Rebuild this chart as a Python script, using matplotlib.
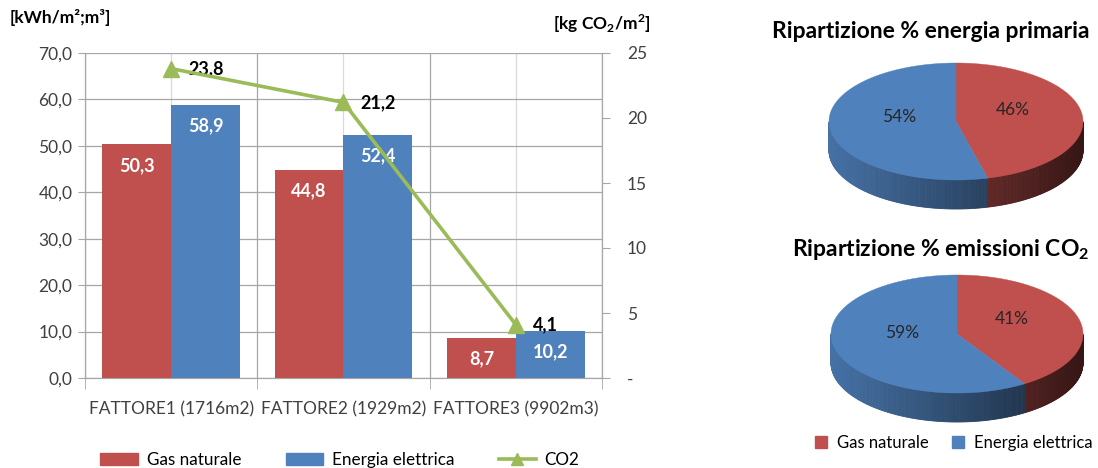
import numpy as np
import matplotlib
matplotlib.use("Agg")
import matplotlib.pyplot as plt
from matplotlib.patches import Polygon, Patch
from matplotlib.lines import Line2D

# data
categories = ["FATTORE1 (1716m2)", "FATTORE2 (1929m2)", "FATTORE3 (9902m3)"]
gas = [50.3, 44.8, 8.7]
elettrica = [58.9, 52.4, 10.2]
co2 = [23.8, 21.2, 4.1]

pie_labels = ["Gas naturale", "Energia elettrica"]
pie_energia = [46, 54]
pie_emissioni = [41, 59]

RED = "#C0504D"
BLUE = "#4F81BD"
GREEN = "#9BBB59"
GRID = "#A6A6A6"

plt.rcParams['font.family'] = ['Lato', 'DejaVu Sans']
plt.rcParams['mathtext.fontset'] = 'custom'
plt.rcParams['mathtext.rm'] = 'Lato'
plt.rcParams['mathtext.bf'] = 'Lato:bold'


def fmt(v):
    return f"{v:.1f}".replace(".", ",")


W, H = 1098, 468
fig = plt.figure(figsize=(W / 100, H / 100), dpi=100)

# ---- bar + line chart
ax = fig.add_axes([85 / W, 1 - 378 / H, (602 - 85) / W, (378 - 53) / H])
x = np.arange(len(categories))
w = 0.4
b1 = ax.bar(x - w / 2, gas, w, color=RED, zorder=3)
b2 = ax.bar(x + w / 2, elettrica, w, color=BLUE, zorder=3)
for bars, vals in ((b1, gas), (b2, elettrica)):
    for r, v in zip(bars, vals):
        ax.annotate(fmt(v), (r.get_x() + r.get_width() / 2, v), xytext=(0, -21),
                    textcoords='offset pixels', ha='center', va='center',
                    color='white', fontweight='bold', fontsize=13, zorder=4)

ax.set_xlim(-0.5, 2.5)
ax.set_ylim(0, 70)
yt = np.arange(0, 71, 10)
ax.set_yticks(yt)
ax.set_yticklabels([fmt(v) for v in yt], fontsize=12.5, color='#404040')
ax.set_xticks(x)
ax.set_xticklabels(categories, fontsize=12.5, color='#404040')
ax.set_xticks([-0.5, 0.5, 1.5, 2.5], minor=True)
ax.tick_params(axis='x', which='major', length=0, pad=17)
ax.tick_params(axis='x', which='minor', length=8, color=GRID, direction='out')
ax.tick_params(axis='y', length=5, color=GRID, pad=4)
ax.grid(axis='y', color=GRID, lw=0.9)
ax.grid(axis='x', which='major', color='#D9D9D9', lw=0.9)
ax.grid(axis='x', which='minor', color=GRID, lw=0.9)
ax.set_axisbelow(True)
ax.spines['top'].set_visible(False)
for s in ['left', 'bottom', 'right']:
    ax.spines[s].set_color(GRID)

ax2 = ax.twinx()
ax2.plot(x, co2, color=GREEN, lw=2.6, marker='^', ms=12, zorder=5)
for xi, v in zip(x, co2):
    ax2.annotate(fmt(v), (xi, v), xytext=(17, 0), textcoords='offset pixels',
                 ha='left', va='center', fontweight='bold', fontsize=13)
ax2.set_ylim(0, 25)
yt2 = np.arange(0, 26, 5)
ax2.set_yticks(yt2)
ax2.set_yticklabels(['-'] + [str(v) for v in yt2[1:]], fontsize=12.5, color='#404040')
ax2.tick_params(axis='y', length=6, color=GRID, pad=12)
ax2.spines['top'].set_visible(False)
for s in ['left', 'bottom', 'right']:
    ax2.spines[s].set_color(GRID)

fig.text(10 / W, 1 - 18 / H, "[kWh/m²;m³]", ha='left', va='center',
         fontweight='bold', fontsize=12.5)
fig.text(602 / W, 1 - 24 / H, r"[kg CO$_\mathbf{2}$/m$^\mathbf{2}$]", ha='center', va='center',
         fontweight='bold', fontsize=12.5)

handles = [Patch(color=RED), Patch(color=BLUE),
           Line2D([], [], color=GREEN, lw=2.6, marker='^', ms=9)]
fig.legend(handles, ["Gas naturale", "Energia elettrica", "CO2"], loc='center',
           bbox_to_anchor=(340 / W, 1 - 460 / H), ncol=3, frameon=False, fontsize=12.3,
           handlelength=2.2, handleheight=0.75, handletextpad=0.5, columnspacing=2.6)

# ---- 3D-looking pies
ov = fig.add_axes([0, 0, 1, 1])
ov.set_xlim(0, W)
ov.set_ylim(H, 0)
ov.axis('off')


def pt(cx, cy, a, b, t):
    r = np.radians(t)
    return cx + a * np.cos(r), cy - b * np.sin(r)


def pie3d(cx, cy, a, b, depth, values, colors):
    total = float(sum(values))
    angles = [90.0]
    for v in values:
        angles.append(angles[-1] - 360.0 * v / total)
    # side wall
    for i, col in enumerate(colors):
        base = np.array(matplotlib.colors.to_rgb(col))
        ts = np.linspace(angles[i + 1], angles[i], 240)
        for ta, tb in zip(ts[:-1], ts[1:]):
            tm = (ta + tb) / 2
            if np.sin(np.radians(tm)) >= 0:
                continue
            k = (np.cos(np.radians(tm)) + 1) / 2
            c = base * (0.88 - 0.6 * k)
            p1 = pt(cx, cy, a, b, ta)
            p2 = pt(cx, cy, a, b, tb)
            poly = [p1, p2, (p2[0], p2[1] + depth), (p1[0], p1[1] + depth)]
            ov.add_patch(Polygon(poly, closed=True, fc=c, ec=c, lw=0.6))
    # top face
    for i, col in enumerate(colors):
        ts = np.linspace(angles[i], angles[i + 1], 200)
        pts = [(cx, cy)] + [pt(cx, cy, a, b, t) for t in ts]
        ov.add_patch(Polygon(pts, closed=True, fc=col, ec=col, lw=0.3))
        mid = (angles[i] + angles[i + 1]) / 2
        lx, ly = pt(cx, cy, a * 0.45, b * 0.45, mid)
        ov.text(lx, ly - 8, f"{values[i] / total * 100:.0f}%", ha='center', va='center',
                fontsize=12.5, color='#262626')


pie3d(956, 121.5, 127, 58.5, 29, pie_energia, [RED, BLUE])
pie3d(957, 334, 126, 59, 29, pie_emissioni, [RED, BLUE])

fig.text(931 / W, 1 - 32 / H, "Ripartizione % energia primaria", ha='center', va='center',
         fontweight='bold', fontsize=16.5)
fig.text(941 / W, 1 - 249 / H, r"Ripartizione % emissioni CO$_\mathbf{2}$", ha='center',
         va='center', fontweight='bold', fontsize=16.5)

fig.legend([Patch(color=RED), Patch(color=BLUE)], pie_labels, loc='center',
           bbox_to_anchor=(954 / W, 1 - 443 / H), ncol=2, frameon=False, fontsize=12,
           handlelength=0.7, handleheight=0.7, handletextpad=0.6, columnspacing=1.4)

fig.savefig("out.png", dpi=100)
